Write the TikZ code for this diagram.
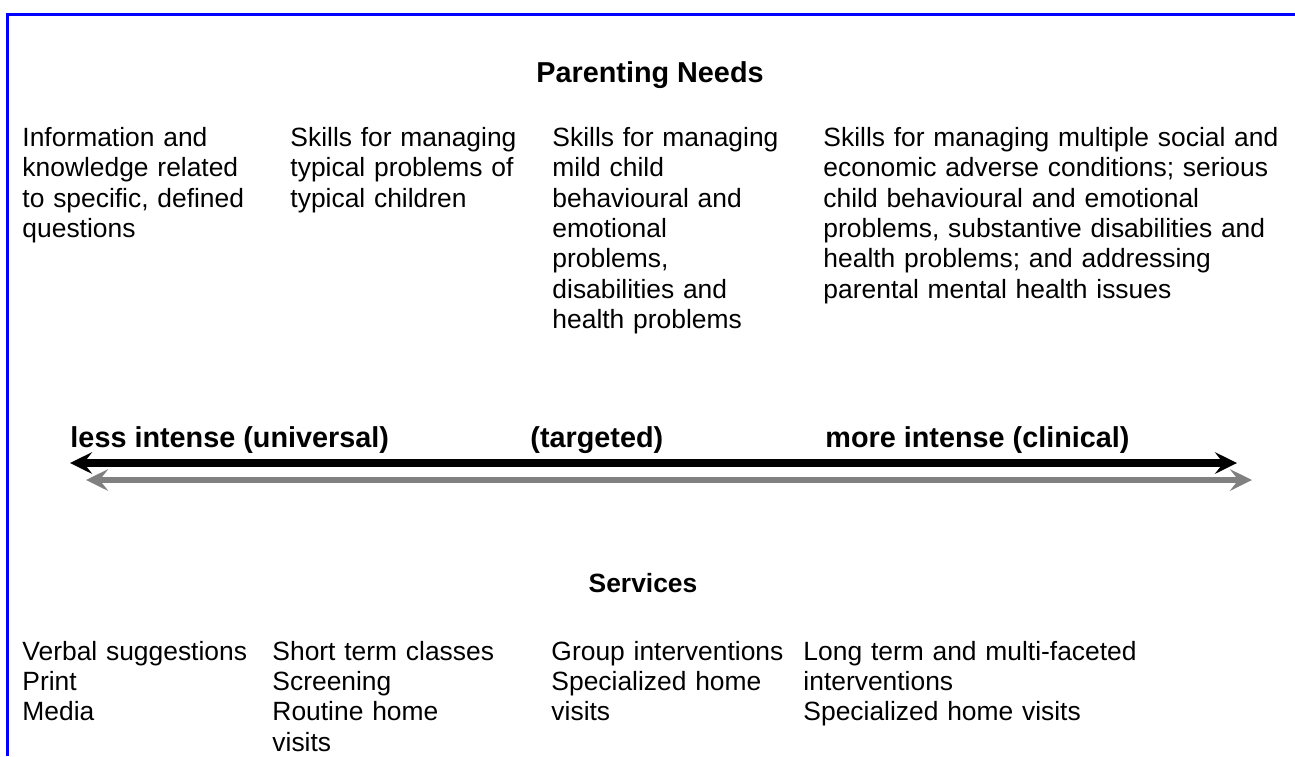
\documentclass[tikz,border=0pt]{standalone}
\usepackage{fontspec}
\setmainfont{Liberation Sans}
\usetikzlibrary{arrows.meta}
\begin{document}
\begin{tikzpicture}[x=0.41667pt,y=-0.41667pt,
  body/.style={anchor=base west, inner sep=0pt, align=left, text width=230pt,
    font=\fontsize{11pt}{12.65pt}\selectfont},
  heading/.style={anchor=base, inner sep=0pt, font=\fontsize{11pt}{12.65pt}\selectfont\bfseries},
  bigheading/.style={anchor=base, inner sep=0pt, font=\fontsize{12pt}{13.8pt}\selectfont\bfseries},
  scalelabel/.style={anchor=base west, inner sep=0pt, font=\fontsize{12pt}{13.8pt}\selectfont\bfseries},
  frameline/.style={draw=blue, line width=1.25pt},
  axisblack/.style={draw=black, line width=3pt,
    {Stealth[length=9.2pt,width=9pt,inset=3.5pt]}-{Stealth[length=9.2pt,width=9pt,inset=3.5pt]}},
  axisgray/.style={draw=gray, line width=2.6pt,
    {Stealth[length=9.2pt,width=9pt,inset=3.5pt]}-{Stealth[length=9.2pt,width=9pt,inset=3.5pt]}}
]
\useasboundingbox (0,0) rectangle (1295,756);
% frame (top and left edges only)
\coordinate (fbl) at (7,756);
\coordinate (ftl) at (7,14);
\coordinate (ftr) at (1295,14);
\draw[frameline] (fbl) -- (ftl) -- (ftr);

% Parenting needs
\node[bigheading] (pn) at (650,82) {Parenting Needs};
\node[body] (n1) at (22,146.5) {Information and\\knowledge related\\to specific, defined\\questions};
\node[body] (n2) at (290,146.5) {Skills for managing\\typical problems of\\typical children};
\node[body] (n3) at (552,146.5) {Skills for managing\\mild child\\behavioural and\\emotional\\problems,\\disabilities and\\health problems};
\node[body] (n4) at (823,146.5) {Skills for managing multiple social and\\economic adverse conditions; serious\\child behavioural and emotional\\problems, substantive disabilities and\\health problems; and addressing\\parental mental health issues};

% scale labels
\node[scalelabel] (l1) at (70,447) {less intense (universal)};
\node[scalelabel] (l2) at (530,447) {(targeted)};
\node[scalelabel] (l3) at (825,447) {more intense (clinical)};

% arrows
\coordinate (a1) at (70,463);
\coordinate (a2) at (1237,463);
\coordinate (b1) at (86,480);
\coordinate (b2) at (1252,480);
\draw[axisgray] (b1) -- (b2);
\draw[axisblack] (a1) -- (a2);

% Services
\node[heading] (sv) at (643,592) {Services};
\node[body] (s1) at (22,660) {Verbal suggestions\\Print\\Media};
\node[body] (s2) at (272,660) {Short term classes\\Screening\\Routine home\\visits};
\node[body] (s3) at (551,660) {Group interventions\\Specialized home\\visits};
\node[body] (s4) at (803,660) {Long term and multi-faceted\\interventions\\Specialized home visits};
\end{tikzpicture}
\end{document}
